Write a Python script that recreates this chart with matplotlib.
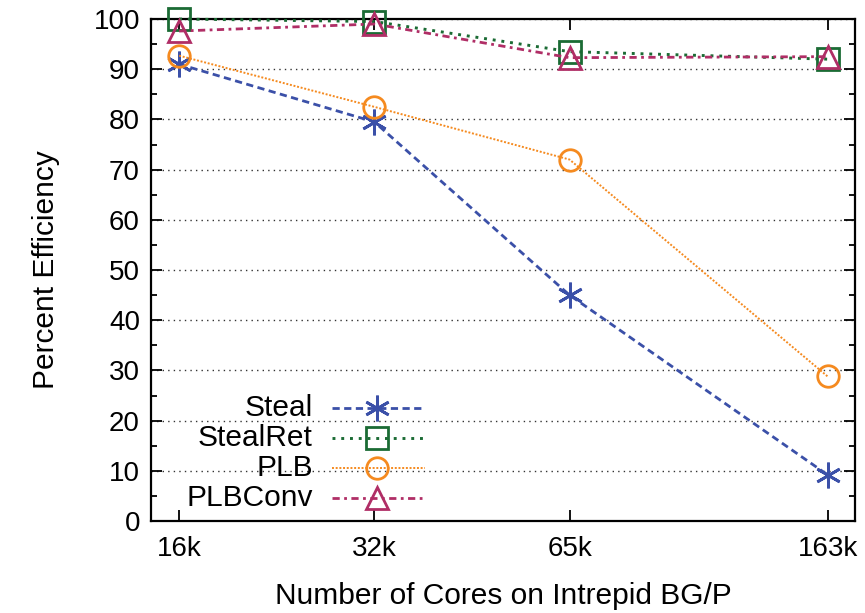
import matplotlib
matplotlib.use("Agg")
import matplotlib.pyplot as plt
import numpy as np
from matplotlib.ticker import FixedLocator, MultipleLocator, NullLocator
from matplotlib.lines import Line2D

plt.rcParams['font.family'] = ['Liberation Sans', 'DejaVu Sans']

cores = [16384, 32768, 65536, 163840]
core_labels = ["16k", "32k", "65k", "163k"]

steal = [91.0, 79.5, 45.0, 9.2]
steal_ret = [100.0, 99.5, 93.5, 92.0]
plb = [92.7, 82.5, 72.0, 28.8]
plb_conv = [97.6, 99.0, 92.3, 92.5]

series = [
    ("Steal", steal, "#3b50a8", (0, (2.6, 1.6)), (6, 2, 0), 2.0),
    ("StealRet", steal_ret, "#1b6b34", (0, (1, 2.0)), "s", 2.1),
    ("PLB", plb, "#f58a1f", (0, (1, 0.9)), "o", 1.4),
    ("PLBConv", plb_conv, "#b02e66", (0, (2.6, 1.6, 1, 1.6)), "^", 2.0),
]
msizes = {"s": 15.5, "o": 15.5, "^": 15.5}
FS = 21.5

fig = plt.figure(figsize=(8.65, 6.13), dpi=100)
ax = fig.add_axes([0.1746, 0.150, 0.8138, 0.819])

for name, vals, color, ls, mk, lw in series:
    ax.plot(cores, vals, color=color, linestyle=ls, linewidth=lw,
            marker=mk, markersize=msizes.get(mk, 18.5), markerfacecolor="none",
            markeredgecolor=color, markeredgewidth=2, clip_on=False, zorder=3)

ax.set_xscale("log", base=2)
ax.set_xlim(cores[0] / 2 ** 0.144, cores[-1] * 2 ** 0.14)
ax.xaxis.set_major_locator(FixedLocator(cores))
ax.xaxis.set_minor_locator(NullLocator())
ax.set_xticklabels(core_labels)
ax.set_ylim(0, 100)
ax.yaxis.set_major_locator(MultipleLocator(10))
ax.yaxis.set_minor_locator(MultipleLocator(5))

ax.grid(axis="y", which="major", linestyle=(0, (1, 3)), color="#333333", linewidth=1)
ax.set_axisbelow(True)

for s in ax.spines.values():
    s.set_linewidth(1.6)
ax.tick_params(which="major", direction="in", length=8, width=1.3,
               labelsize=20, top=True, right=True, pad=8)
ax.tick_params(axis="x", pad=11)
ax.tick_params(which="minor", direction="in", length=4, width=1.3,
               top=False, right=True)

ax.set_xlabel("Number of Cores on Intrepid BG/P", fontsize=FS, labelpad=14)
ax.set_ylabel("Percent Efficiency", fontsize=FS, labelpad=24)

# gnuplot-style key: label on the left, right aligned, sample on the right
key_rows = [0.226, 0.166, 0.106, 0.046]
for (name, vals, color, ls, mk, lw), ky in zip(series, key_rows):
    ax.text(0.230, ky, name, transform=ax.transAxes, ha="right", va="center",
            fontsize=FS)
    ax.add_line(Line2D([0.257, 0.389], [ky, ky], transform=ax.transAxes,
                       color=color, linestyle=ls, linewidth=lw, zorder=3))
    ax.add_line(Line2D([0.321], [ky], transform=ax.transAxes, marker=mk,
                       markersize=msizes.get(mk, 18.5), markerfacecolor="none",
                       markeredgecolor=color, markeredgewidth=2, zorder=3))

fig.savefig("out.png", dpi=100)
